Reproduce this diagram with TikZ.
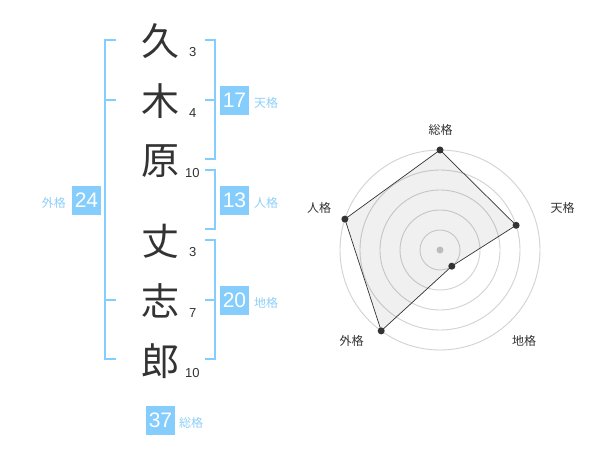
\documentclass[tikz,border=0pt]{standalone}
\usepackage{fontspec}
\setmainfont{Liberation Sans}
\newfontfamily\cjk{Noto Sans CJK JP}
\definecolor{sky}{HTML}{84CDFC}
\definecolor{skytext}{HTML}{8FD0F8}
\definecolor{ink}{HTML}{333333}
\definecolor{ring}{HTML}{D2D2D2}
\definecolor{hub}{HTML}{C8C8C8}
\tikzset{
  kanji/.style={inner sep=0pt, text=ink, font=\cjk\fontsize{38}{38}\selectfont},
  strokes/.style={inner sep=0pt, text=ink, font=\fontsize{13}{13}\selectfont},
  numbox/.style={fill=sky, text=white, minimum size=29pt, inner sep=0pt, font=\fontsize{21}{21}\selectfont},
  kaku/.style={inner sep=0pt, text=skytext, font=\cjk\fontsize{12}{12}\selectfont},
  bracket/.style={draw=sky, line width=2pt},
  radarlabel/.style={inner sep=0pt, text=ink, font=\cjk\fontsize{12}{12}\selectfont},
  ringline/.style={draw=ring, line width=0.9pt},
  vdot/.style={circle, fill=ink, inner sep=0pt, minimum size=7pt},
}
\begin{document}
\begin{tikzpicture}[x=1pt,y=-1pt]
\useasboundingbox (0,0) rectangle (600,470);
\fill[white] (0,0) rectangle (600,470);

% characters
\node[kanji] (k1) at (160,41) {久};
\node[kanji] (k2) at (160,101) {木};
\node[kanji] (k3) at (160,161) {原};
\node[kanji] (k4) at (160,241) {丈};
\node[kanji] (k5) at (160,301) {志};
\node[kanji] (k6) at (160,361) {郎};

% stroke counts
\node[strokes] (s1) at (192.7,52.3) {3};
\node[strokes] (s2) at (192.7,112.7) {4};
\node[strokes] (s3) at (192.3,172.7) {10};
\node[strokes] (s4) at (192.7,252.3) {3};
\node[strokes] (s5) at (192.7,312.7) {7};
\node[strokes] (s6) at (192.3,372.7) {10};

% brackets: coordinates
\coordinate (ga) at (116,40);  \coordinate (gb) at (105,40);
\coordinate (gc) at (116,100); \coordinate (gd) at (105,100);
\coordinate (ge) at (116,300); \coordinate (gf) at (105,300);
\coordinate (gg) at (116,359); \coordinate (gh) at (105,359);
\draw[bracket] (ga) -- (gb) -- (gh) -- (gg);
\draw[bracket] (gc) -- (gd);
\draw[bracket] (ge) -- (gf);

\coordinate (ta) at (205,40);  \coordinate (tb) at (215,40);
\coordinate (tc) at (205,100); \coordinate (td) at (215,100);
\coordinate (te) at (205,159); \coordinate (tf) at (215,159);
\draw[bracket] (ta) -- (tb) -- (tf) -- (te);
\draw[bracket] (tc) -- (td);

\coordinate (ja) at (205,170); \coordinate (jb) at (215,170);
\coordinate (jc) at (205,229); \coordinate (jd) at (215,229);
\draw[bracket] (ja) -- (jb) -- (jd) -- (jc);

\coordinate (ca) at (205,240); \coordinate (cb) at (215,240);
\coordinate (cc) at (205,300); \coordinate (cd) at (215,300);
\coordinate (ce) at (205,359); \coordinate (cf) at (215,359);
\draw[bracket] (ca) -- (cb) -- (cf) -- (ce);
\draw[bracket] (cc) -- (cd);

% boxes and labels
\node[numbox] (b17) at (234.5,100.5) {17};
\node[kaku, anchor=west] (l17) at (254,103) {天格};
\node[numbox] (b13) at (234.5,200.5) {13};
\node[kaku, anchor=west] (l13) at (254,203) {人格};
\node[numbox] (b20) at (234.5,300.5) {20};
\node[kaku, anchor=west] (l20) at (254,303) {地格};
\node[numbox] (b24) at (86.5,200.5) {24};
\node[kaku, anchor=east] (l24) at (66,203) {外格};
\node[numbox] (b37) at (160.5,420) {37};
\node[kaku, anchor=west] (l37) at (179,423) {総格};

% radar chart
\coordinate (rc) at (440,250);
\foreach \r in {20,40,60,80,100} \draw[ringline] (rc) circle[radius=\r];
\fill[hub] (rc) circle[radius=3.5];
\coordinate (p1) at (440,150);
\coordinate (p2) at (516.1,225.3);
\coordinate (p3) at (451.8,266.2);
\coordinate (p4) at (381.2,330.9);
\coordinate (p5) at (344.9,219.1);
\fill[black, fill opacity=0.06] (p1) -- (p2) -- (p3) -- (p4) -- (p5) -- cycle;
\draw[ink, line width=0.7pt] (p1) -- (p2) -- (p3) -- (p4) -- (p5) -- cycle;
\node[vdot] (d1) at (p1) {};
\node[vdot] (d2) at (p2) {};
\node[vdot] (d3) at (p3) {};
\node[vdot] (d4) at (p4) {};
\node[vdot] (d5) at (p5) {};
\node[radarlabel] (r1) at (440.7,130) {総格};
\node[radarlabel] (r2) at (562.7,208) {天格};
\node[radarlabel] (r3) at (524,341) {地格};
\node[radarlabel] (r4) at (351.7,341) {外格};
\node[radarlabel] (r5) at (319,208) {人格};
\end{tikzpicture}
\end{document}
